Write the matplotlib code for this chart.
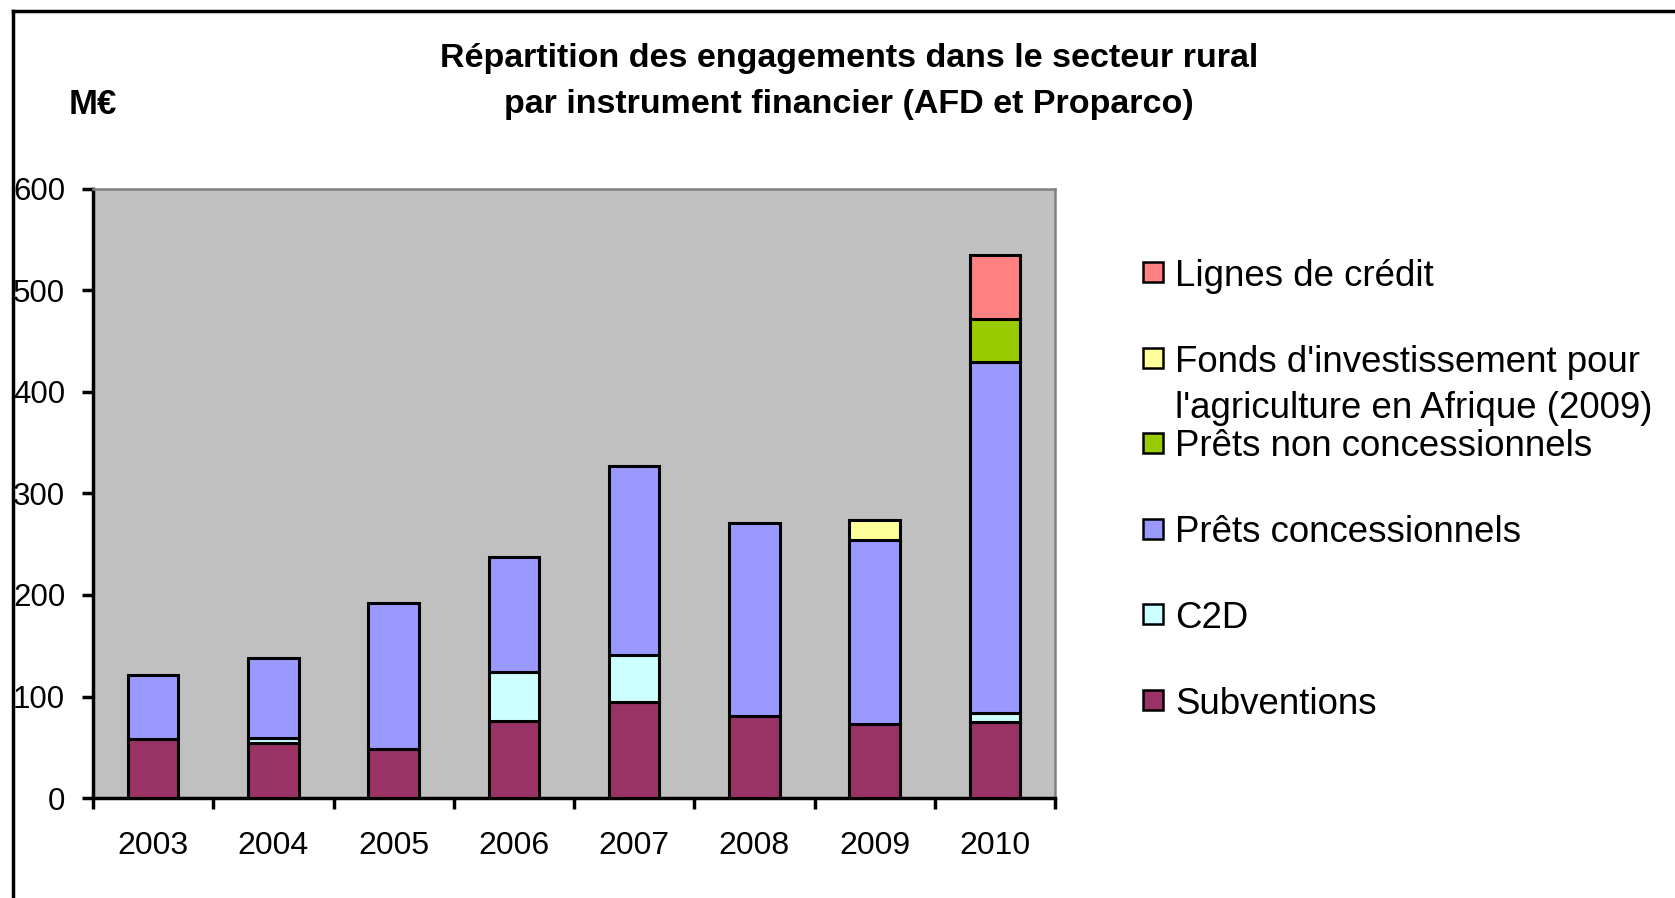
import numpy as np
import matplotlib
matplotlib.use("Agg")
import matplotlib.pyplot as plt
from matplotlib.patches import Rectangle
from matplotlib.lines import Line2D

# * Data (M EUR)

years = ["2003", "2004", "2005", "2006", "2007", "2008", "2009", "2010"]

subventions = [58, 54, 48, 76, 95, 81, 73, 75]
c2d = [0, 5, 0, 48, 46, 0, 0, 9]
prets_conc = [63, 79, 144, 113, 186, 190, 181, 346]
prets_non_conc = [0, 0, 0, 0, 0, 0, 0, 42]
fonds_afrique = [0, 0, 0, 0, 0, 0, 20, 0]
lignes_credit = [0, 0, 0, 0, 0, 0, 0, 63]

# Stack order, bottom to top (legend lists them top to bottom).
series = [
    ("Subventions", subventions, "#993366"),
    ("C2D", c2d, "#CCFFFF"),
    ("Prêts concessionnels", prets_conc, "#9999FF"),
    ("Prêts non concessionnels", prets_non_conc, "#99CC00"),
    ("Fonds d'investissement pour\nl'agriculture en Afrique (2009)", fonds_afrique, "#FFFF99"),
    ("Lignes de crédit", lignes_credit, "#FF8080"),
]

plt.rcParams["font.family"] = ["Liberation Sans", "DejaVu Sans"]

W, H = 1675, 898
fig = plt.figure(figsize=(W / 100, H / 100), dpi=100)
fig.patch.set_facecolor("white")

# Plot area in pixel coordinates of the reference.
left, right, top, bottom = 93, 1055, 189, 798
ax = fig.add_axes([left / W, 1 - bottom / H, (right - left) / W, (bottom - top) / H])
ax.set_facecolor("#C0C0C0")

# * Stacked bars

x = np.arange(len(years))
base = np.zeros(len(years))
for name, vals, col in series:
    vals = np.array(vals, dtype=float)
    mask = vals > 0
    ax.bar(x[mask], vals[mask], 0.42, bottom=base[mask], color=col,
           edgecolor="black", linewidth=2.2, zorder=3)
    base += vals

# * Axes

ax.set_xlim(-0.5, len(years) - 0.5)
ax.set_ylim(0, 600)
ax.set_yticks(np.arange(0, 601, 100))
ax.set_xticks(x)
ax.set_xticklabels(years)
ax.set_xticks(np.arange(-0.5, len(years), 1), minor=True)
ax.tick_params(axis="x", which="major", length=0, pad=24, labelsize=23)
ax.tick_params(axis="x", which="minor", length=8, width=2.5, direction="out")
ax.tick_params(axis="y", length=8, width=2.5, pad=12, labelsize=22.5)

for s in ("left", "bottom"):
    ax.spines[s].set_color("black")
    ax.spines[s].set_linewidth(2.5)
for s in ("top", "right"):
    ax.spines[s].set_color("#808080")
    ax.spines[s].set_linewidth(1.8)

# * Titles

fig.text(849 / W, 1 - 59 / H, "Répartition des engagements dans le secteur rural",
         ha="center", va="center", fontsize=24.5, fontweight="bold")
fig.text(849 / W, 1 - 104 / H, "par instrument financier (AFD et Proparco)",
         ha="center", va="center", fontsize=24.5, fontweight="bold")
fig.text(69 / W, 1 - 104 / H, "M€", ha="left", va="center", fontsize=25,
         fontweight="bold")

# * Legend (top entry first, as in the reference)

entry_y = [272, 358, 443, 529, 614, 700]
sq = 20
for (name, vals, col), yc in zip(reversed(series), entry_y):
    fig.add_artist(Rectangle((1143 / W, 1 - (yc + sq / 2) / H), sq / W, sq / H,
                             facecolor=col, edgecolor="black", linewidth=1.8,
                             transform=fig.transFigure))
    for i, line in enumerate(name.split("\n")):
        fig.text(1175 / W, 1 - (yc + i * 46) / H, line, ha="left",
                 va="center_baseline", fontsize=26.4)

# * Outer frame (only top and left edges are inside the picture)

fig.add_artist(Line2D([13 / W, 1.0], [1 - 11 / H, 1 - 11 / H], color="black",
                      linewidth=2.5, transform=fig.transFigure))
fig.add_artist(Line2D([13 / W, 13 / W], [0.0, 1 - 11 / H], color="black",
                      linewidth=2.5, transform=fig.transFigure))

fig.savefig("out.png", dpi=100)
